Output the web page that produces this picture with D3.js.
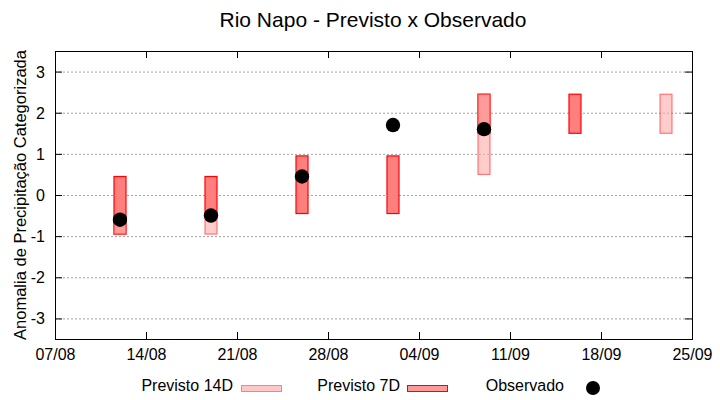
<!DOCTYPE html>
<html>
<head>
<meta charset="utf-8">
<script src="https://cdn.jsdelivr.net/npm/d3@7"></script>
<style>
body { margin: 0; background: #fff; }
text { font-family: "Liberation Sans", Arial, sans-serif; }
</style>
</head>
<body>
<script>
// datas das previsoes
var datas = ['2023-08-12', '2023-08-19', '2023-08-26', '2023-09-02', '2023-09-09', '2023-09-16', '2023-09-23'];
// previsto 7 dias (limite inferior / superior)
var p7Min = [-0.95, -0.5, -0.45, -0.45, 1.5, 1.5, null];
var p7Max = [0.45, 0.45, 0.95, 0.95, 2.45, 2.45, null];
// previsto 14 dias
var p14Min = [-0.95, -0.95, null, null, 0.5, null, 1.5];
var p14Max = [-0.5, -0.5, null, null, 2.45, null, 2.45];
// observado
var obs = [-0.6, -0.5, 0.45, 1.7, 1.6, null, null];

var xTicks = ['2023-08-07', '2023-08-14', '2023-08-21', '2023-08-28', '2023-09-04', '2023-09-11', '2023-09-18', '2023-09-25'];
var yTicks = [-3, -2, -1, 0, 1, 2, 3];

var parse = d3.timeParse('%Y-%m-%d');
var W = 720, H = 400;
var m = {l: 55, r: 692, t: 51, b: 339};

var svg = d3.select('body').append('svg').attr('width', W).attr('height', H);

var x = d3.scaleTime().domain([parse(xTicks[0]), parse(xTicks[xTicks.length - 1])]).range([m.l, m.r]);
var y = d3.scaleLinear().domain([-3.5, 3.5]).range([m.b, m.t]);

// grade
svg.selectAll('.grid').data(yTicks).enter().append('line')
    .attr('x1', m.l).attr('x2', m.r)
    .attr('y1', d => y(d) + 0.5).attr('y2', d => y(d) + 0.5)
    .style('stroke', '#a0a0a0').style('stroke-dasharray', '2,2').style('stroke-width', 1);

var bw = 12;

// previsto 7D
var d7 = datas.map((d, i) => ({d: parse(d), lo: p7Min[i], hi: p7Max[i]})).filter(d => d.lo != null);
svg.selectAll('.p7').data(d7).enter().append('rect')
    .attr('x', d => x(d.d) - bw / 2)
    .attr('y', d => y(d.hi))
    .attr('width', bw)
    .attr('height', d => y(d.lo) - y(d.hi))
    .style('fill', '#ff7f7f').style('stroke', '#ff0000').style('stroke-width', 1.2);

// previsto 14D
var d14 = datas.map((d, i) => ({d: parse(d), lo: p14Min[i], hi: p14Max[i]})).filter(d => d.lo != null);
svg.selectAll('.p14').data(d14).enter().append('rect')
    .attr('x', d => x(d.d) - bw / 2)
    .attr('y', d => y(d.hi))
    .attr('width', bw)
    .attr('height', d => y(d.lo) - y(d.hi))
    .style('fill', 'rgb(255,173,173)').style('fill-opacity', 0.62)
    .style('stroke', 'rgb(255,50,50)').style('stroke-opacity', 0.62).style('stroke-width', 1.2);

// observado
var dObs = datas.map((d, i) => ({d: parse(d), v: obs[i]})).filter(d => d.v != null);
svg.selectAll('.obs').data(dObs).enter().append('circle')
    .attr('cx', d => x(d.d))
    .attr('cy', d => y(d.v))
    .attr('r', 7.2)
    .style('fill', '#000');

// moldura
svg.append('rect').attr('x', m.l + 0.5).attr('y', m.t + 0.5)
    .attr('width', m.r - m.l).attr('height', m.b - m.t)
    .style('fill', 'none').style('stroke', '#000').style('stroke-width', 1);

// ticks y (espelhados)
yTicks.forEach(function (t) {
    svg.append('line').attr('x1', m.l).attr('x2', m.l + 7).attr('y1', y(t) + 0.5).attr('y2', y(t) + 0.5).style('stroke', '#000');
    svg.append('line').attr('x1', m.r - 7).attr('x2', m.r).attr('y1', y(t) + 0.5).attr('y2', y(t) + 0.5).style('stroke', '#000');
    svg.append('text').attr('x', 45).attr('y', y(t) + 6).attr('text-anchor', 'end')
        .style('font-size', '16px').text(t);
});

// ticks x
xTicks.forEach(function (t) {
    var px = Math.round(x(parse(t))) + 0.5;
    svg.append('line').attr('x1', px).attr('x2', px).attr('y1', m.b).attr('y2', m.b - 7).style('stroke', '#000');
    svg.append('line').attr('x1', px).attr('x2', px).attr('y1', m.t).attr('y2', m.t + 7).style('stroke', '#000');
    svg.append('text').attr('x', px).attr('y', 360).attr('text-anchor', 'middle')
        .style('font-size', '16px').text(d3.timeFormat('%d/%m')(parse(t)));
});

// titulos
svg.append('text').attr('x', 373).attr('y', 27).attr('text-anchor', 'middle')
    .style('font-size', '21px').text('Rio Napo - Previsto x Observado');
svg.append('text').attr('transform', 'translate(26,' + ((m.t + m.b) / 2) + ') rotate(-90)')
    .attr('text-anchor', 'middle').style('font-size', '16.5px').text('Anomalia de Precipitação Categorizada');

// legenda
svg.append('text').attr('x', 233).attr('y', 391).attr('text-anchor', 'end').style('font-size', '16px').text('Previsto 14D');
svg.append('rect').attr('x', 241.5).attr('y', 385.5).attr('width', 40).attr('height', 6)
    .style('fill', '#ffc8c8').style('stroke', '#ff8080');
svg.append('text').attr('x', 400).attr('y', 391).attr('text-anchor', 'end').style('font-size', '16px').text('Previsto 7D');
svg.append('rect').attr('x', 407.5).attr('y', 385.5).attr('width', 40).attr('height', 6)
    .style('fill', '#ff9999').style('stroke', '#ff0000');
svg.append('text').attr('x', 564).attr('y', 391).attr('text-anchor', 'end').style('font-size', '16px').text('Observado');
svg.append('circle').attr('cx', 593).attr('cy', 388).attr('r', 7).style('fill', '#000');
</script>
</body>
</html>
